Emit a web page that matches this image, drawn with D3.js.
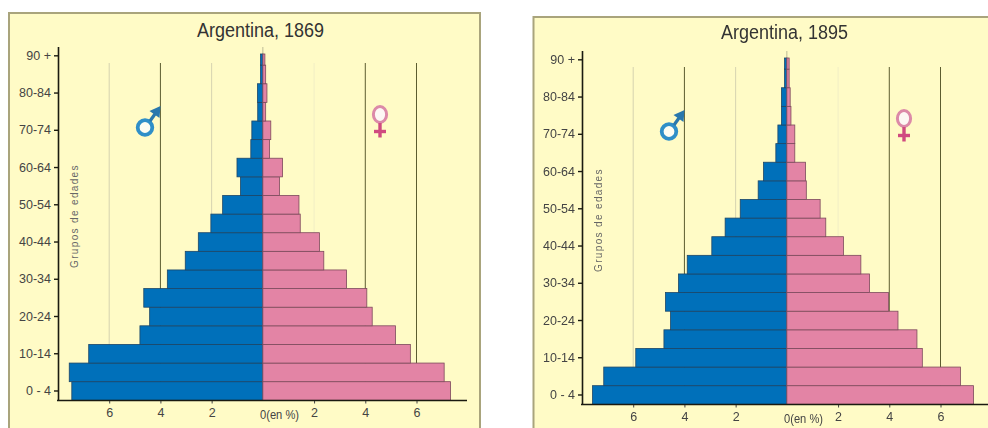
<!DOCTYPE html>
<html>
<head>
<meta charset="utf-8">
<script src="https://cdn.jsdelivr.net/npm/d3@7"></script>
<style>
  html, body { margin: 0; padding: 0; background: #fff; overflow: hidden; }
  svg { display: block; filter: blur(0.5px); font-family: "Liberation Sans", Arial, sans-serif; }
</style>
</head>
<body>
<script>
// age groups, youngest first
var ages = ["0 - 4","5-9","10-14","15-19","20-24","25-29","30-34","35-39","40-44","45-49",
            "50-54","55-59","60-64","65-69","70-74","75-79","80-84","85-89","90 +"];
var ageLabels = ["0 - 4","10-14","20-24","30-34","40-44","50-54","60-64","70-74","80-84","90 +"];
var xTicks = [-6,-4,-2,2,4,6];

// % of population
var male1869 = [7.46,7.56,6.80,4.80,4.42,4.65,3.73,3.03,2.52,2.03,1.57,0.87,1.01,0.47,0.43,0.20,0.21,0.09,0.09];
var female1869 = [7.33,7.08,5.76,5.18,4.27,4.06,3.27,2.38,2.21,1.46,1.41,0.65,0.77,0.26,0.31,0.11,0.16,0.11,0.08];
var male1895 = [7.59,7.15,5.90,4.80,4.54,4.74,4.23,3.89,2.93,2.41,1.82,1.12,0.91,0.43,0.35,0.21,0.21,0.09,0.09];
var female1895 = [7.29,6.78,5.29,5.08,4.34,3.97,3.23,2.89,2.21,1.52,1.30,0.76,0.73,0.31,0.31,0.16,0.13,0.09,0.09];

var svg = d3.select("body")
  .append("svg")
  .attr("width", 988)
  .attr("height", 428);

// yellow panels
svg.append("rect").attr("x", 9).attr("y", 13).attr("width", 471).attr("height", 420)
  .attr("fill", "#fffbc6").attr("stroke", "#a9a47c").attr("stroke-width", 2);
svg.append("rect").attr("x", 533.5).attr("y", 17).attr("width", 470).attr("height", 420)
  .attr("fill", "#fffbc6").attr("stroke", "#a9a47c").attr("stroke-width", 2);

// scales are shared, second pyramid is just shifted
var x = d3.scaleLinear().domain([-6, 6]).range([109.2, 416.5]);
var y = d3.scaleBand().domain(ages).range([400.3, 46.5]);
var barsTop = 54;

var gridColor = function(d) {
  if (d == -4 || d == 4 || d == 6) return "#5c5c30";
  if (d == 2) return "#f1eec4";
  return "#d6d3b0";
};

function pyramid(dx, dy, title, male, female, baselineEnd) {
  var g = svg.append("g").attr("transform", "translate(" + dx + "," + dy + ")");

  g.append("text")
    .attr("x", 260.5)
    .attr("y", 37 - (dy > 0 ? 2 : 0))
    .attr("text-anchor", "middle")
    .attr("font-size", 20)
    .attr("textLength", 127)
    .attr("lengthAdjust", "spacingAndGlyphs")
    .attr("fill", "#333")
    .text(title);

  // grid
  g.selectAll(".grid")
    .data(xTicks)
    .join("line")
      .attr("class", "grid")
      .attr("x1", d => x(d))
      .attr("x2", d => x(d))
      .attr("y1", 63)
      .attr("y2", 400)
      .attr("stroke", gridColor)
      .attr("stroke-width", 1);

  g.append("line")
    .attr("x1", x(0)).attr("x2", x(0))
    .attr("y1", 47).attr("y2", 56)
    .attr("stroke", "#bdbb98");

  var rows = ages.map((a, i) => ({age: a, m: male[i], f: female[i]}));

  g.selectAll(".male")
    .data(rows)
    .join("rect")
      .attr("class", "male")
      .attr("x", d => x(-d.m))
      .attr("y", d => Math.max(y(d.age), barsTop))
      .attr("width", d => x(0) - x(-d.m))
      .attr("height", d => y(d.age) + y.bandwidth() - Math.max(y(d.age), barsTop))
      .attr("fill", "#0070ba")
      .attr("stroke", "#1c4668")
      .attr("stroke-width", 0.8);

  g.selectAll(".female")
    .data(rows)
    .join("rect")
      .attr("class", "female")
      .attr("x", x(0))
      .attr("y", d => Math.max(y(d.age), barsTop))
      .attr("width", d => x(d.f) - x(0))
      .attr("height", d => y(d.age) + y.bandwidth() - Math.max(y(d.age), barsTop))
      .attr("fill", "#e384a5")
      .attr("stroke", "#7c4a5c")
      .attr("stroke-width", 0.8);

  // y axis
  var yAxis = g.append("g")
    .attr("transform", "translate(58,0)")
    .call(d3.axisLeft(y).tickValues(ageLabels).tickSize(4).tickPadding(3).tickSizeOuter(0));
  yAxis.select(".domain").attr("stroke", "#1a1a10").attr("stroke-width", 1.6);
  yAxis.selectAll(".tick line").attr("stroke", "#1a1a10").attr("stroke-width", 1.4);
  yAxis.selectAll(".tick text")
    .attr("font-family", "Liberation Sans")
    .attr("font-size", 12.5)
    .attr("fill", "#444");

  // x axis, negative side is the men
  var xAxis = g.append("g")
    .attr("transform", "translate(0,400.5)")
    .call(d3.axisBottom(x).tickValues(xTicks).tickSize(3).tickPadding(5).tickSizeOuter(0).tickFormat(d => Math.abs(d)));
  xAxis.select(".domain").remove();
  xAxis.selectAll(".tick line").attr("stroke", "#444");
  xAxis.selectAll(".tick text")
    .attr("font-family", "Liberation Sans")
    .attr("font-size", 12.5)
    .attr("fill", "#444");

  g.append("line")
    .attr("x1", 57).attr("x2", baselineEnd)
    .attr("y1", 400.5).attr("y2", 400.5)
    .attr("stroke", "#1a1a10").attr("stroke-width", 1.4);

  g.append("text")
    .attr("x", 260)
    .attr("y", 419)
    .attr("font-size", 12.5)
    .attr("textLength", 39)
    .attr("lengthAdjust", "spacingAndGlyphs")
    .attr("fill", "#444")
    .text("0(en %)");

  g.append("text")
    .attr("transform", "translate(78,268) rotate(-90)")
    .attr("font-size", 10)
    .attr("letter-spacing", 1.35)
    .attr("fill", "#666")
    .text("Grupos de edades");

  // male sign
  var m = g.append("g").attr("fill", "none");
  m.append("circle").attr("cx", 145).attr("cy", 127.5).attr("r", 7.3).attr("fill", "#fdfdf2").attr("stroke", "#2f8fc8").attr("stroke-width", 3.8);
  m.append("line").attr("x1", 150).attr("y1", 121).attr("x2", 155).attr("y2", 114).attr("stroke-width", 3.2).attr("stroke", "#2a78ad");
  g.append("path").attr("d", "M160.5 106 L159.5 118 L149.5 111 Z").attr("fill", "#2a78ad");

  // female sign
  var f = g.append("g").attr("fill", "none");
  f.append("ellipse").attr("cx", 380).attr("cy", 114.5).attr("rx", 6.6).attr("ry", 8).attr("fill", "#fdf8f4").attr("stroke", "#dc8aa8").attr("stroke-width", 3);
  f.append("line").attr("x1", 380).attr("y1", 123).attr("x2", 380).attr("y2", 137.5).attr("stroke-width", 3.4).attr("stroke", "#d04a80");
  f.append("line").attr("x1", 374).attr("y1", 131.5).attr("x2", 386).attr("y2", 131.5).attr("stroke-width", 3.4).attr("stroke", "#d04a80");
}

pyramid(0, 0, "Argentina, 1869", male1869, female1869, 467);
pyramid(524, 4, "Argentina, 1895", male1895, female1895, 470);
</script>
</body>
</html>
